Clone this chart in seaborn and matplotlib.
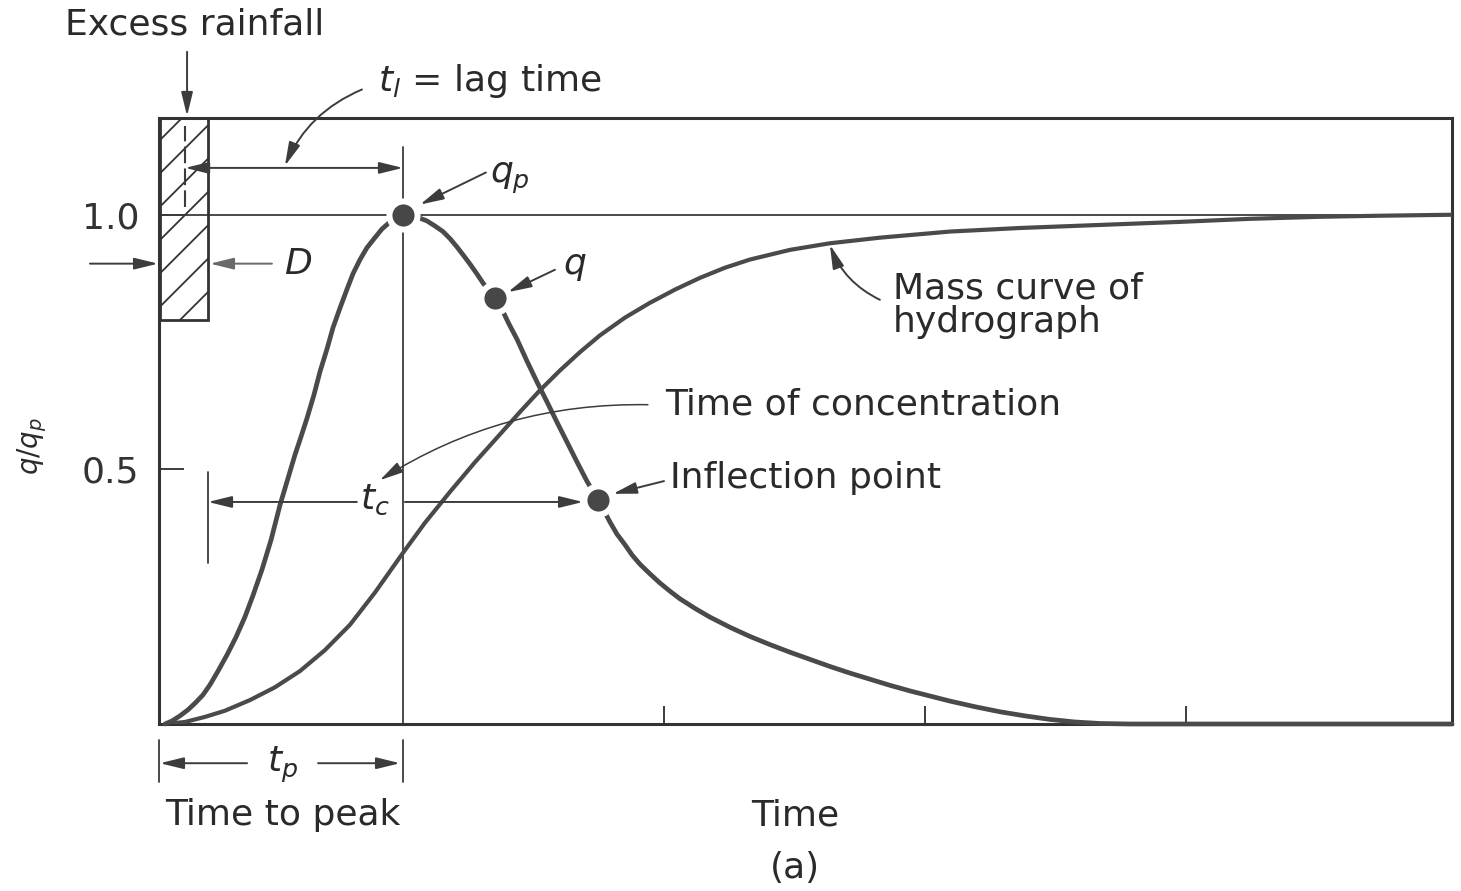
import matplotlib
matplotlib.use("Agg")
import matplotlib.pyplot as plt
import pandas as pd
import seaborn as sns

# ---------------- data (t / t_p , q / q_p) ----------------
rise_t = [0.025, 0.053, 0.086, 0.119, 0.148, 0.180, 0.209, 0.242, 0.279, 0.316,
          0.352, 0.385, 0.422, 0.459, 0.496, 0.529, 0.557, 0.582, 0.607, 0.635,
          0.660, 0.689, 0.713, 0.742, 0.770, 0.795, 0.824, 0.852, 0.885, 0.914,
          0.947, 0.975, 1.000]
rise_q = [0.000, 0.006, 0.016, 0.028, 0.041, 0.057, 0.077, 0.104, 0.136, 0.171,
          0.210, 0.252, 0.303, 0.361, 0.430, 0.483, 0.528, 0.564, 0.601, 0.646,
          0.692, 0.737, 0.778, 0.817, 0.853, 0.884, 0.912, 0.935, 0.955, 0.972,
          0.986, 0.996, 1.000]

fall_t = [1.033, 1.066, 1.098, 1.131, 1.164, 1.193, 1.221, 1.250, 1.275, 1.303,
          1.328, 1.352, 1.377, 1.406, 1.434, 1.467, 1.508, 1.549, 1.590, 1.631,
          1.672, 1.713, 1.754, 1.799, 1.824, 1.848, 1.877, 1.910, 1.939, 1.971,
          2.012, 2.053, 2.094, 2.135, 2.197, 2.258, 2.340, 2.422, 2.504, 2.586,
          2.668, 2.750, 2.832, 2.914, 2.996, 3.078, 3.160, 3.242, 3.344, 3.447,
          3.549, 3.652, 3.754, 3.857, 3.980, 5.300]
fall_q = [0.998, 0.994, 0.988, 0.978, 0.967, 0.953, 0.937, 0.919, 0.903, 0.884,
          0.866, 0.851, 0.837, 0.814, 0.786, 0.756, 0.713, 0.672, 0.633, 0.593,
          0.554, 0.515, 0.477, 0.440, 0.419, 0.397, 0.373, 0.352, 0.332, 0.314,
          0.295, 0.277, 0.261, 0.246, 0.227, 0.210, 0.190, 0.172, 0.156, 0.141,
          0.127, 0.113, 0.100, 0.088, 0.076, 0.065, 0.055, 0.045, 0.034, 0.024,
          0.016, 0.009, 0.004, 0.001, 0.000, 0.000]

mass_t = [0.025, 0.107, 0.189, 0.270, 0.373, 0.475, 0.578, 0.680, 0.783, 0.885,
          1.000, 1.090, 1.193, 1.295, 1.398, 1.480, 1.561, 1.643, 1.725, 1.807,
          1.910, 2.012, 2.115, 2.217, 2.320, 2.422, 2.586, 2.750, 2.955, 3.242,
          3.529, 3.857, 4.184, 4.471, 4.758, 4.992, 5.300]
mass_q = [0.000, 0.004, 0.014, 0.026, 0.047, 0.072, 0.104, 0.145, 0.195, 0.258,
          0.336, 0.395, 0.456, 0.514, 0.569, 0.613, 0.655, 0.694, 0.730, 0.763,
          0.798, 0.827, 0.853, 0.876, 0.896, 0.912, 0.931, 0.944, 0.955, 0.967,
          0.974, 0.980, 0.986, 0.992, 0.996, 0.998, 1.000]

point_names = ["q_p", "q", "inflection"]
point_t = [1.000, 1.377, 1.799]
point_q = [1.000, 0.837, 0.440]

rain_start, rain_end = 0.004, 0.201       # excess rainfall duration D
rain_bottom, rain_top = 0.794, 1.19
rain_centroid = 0.107
t_peak = 1.0
tc_start = 0.201

x_ticks = [2.07, 3.14, 4.21]
y_ticks = [0.5, 1.0]
y_tick_labels = ["0.5", "1.0"]

# ---------------- style ----------------
sns.set_theme(style="white")
plt.rcParams["font.family"] = ["DejaVu Sans"]
plt.rcParams["mathtext.fontset"] = "dejavusans"
plt.rcParams["hatch.linewidth"] = 1.3

INK = "#3c3c3c"
CURVE = "#4a4a4a"
FS = 26

fig = plt.figure(figsize=(14.61, 8.91), dpi=100)
W, H = 1461, 891
ax = fig.add_axes([159 / W, (H - 724) / H, (1452 - 159) / W, (724 - 118) / H])
ax.set_xlim(0, 5.30)
ax.set_ylim(0, 1.19)

for s in ax.spines.values():
    s.set_visible(True)
    s.set_color("#333333")
    s.set_linewidth(2.2)

ax.set_xticks(x_ticks)
ax.set_xticklabels([])
ax.set_yticks(y_ticks)
ax.set_yticklabels(y_tick_labels)
ax.tick_params(axis="x", direction="in", length=13, width=1.4, color=INK, bottom=True)
ax.tick_params(axis="y", direction="in", length=18, width=1.4, color=INK, left=True,
               pad=14, labelsize=FS, labelcolor="#333333")

# ---------------- curves ----------------
hydro = pd.DataFrame({"t": rise_t + fall_t, "q": rise_q + fall_q})
mass = pd.DataFrame({"t": mass_t, "q": mass_q})
sns.lineplot(data=hydro, x="t", y="q", sort=False, estimator=None, color=CURVE,
             linewidth=3.4, ax=ax, zorder=3)
ax.lines[-1].set_clip_on(False)
sns.lineplot(data=mass, x="t", y="q", sort=False, estimator=None, color=CURVE,
             linewidth=3.0, ax=ax, zorder=3)

# reference lines
ax.axhline(1.0, color=INK, linewidth=1.3, zorder=2)
ax.plot([t_peak, t_peak], [0, 1.134], color=INK, linewidth=1.3, zorder=2)

# excess rainfall block
ax.bar(x=rain_start, height=rain_top - rain_bottom, bottom=rain_bottom,
       width=rain_end - rain_start, align="edge", fill=False, hatch="/",
       edgecolor="#333333", linewidth=2.0, zorder=2)
ax.plot([rain_centroid, rain_centroid], [1.016, 1.175], color=INK, linewidth=1.5,
        linestyle=(0, (8, 2.5)), zorder=2)

# points
pts = pd.DataFrame({"t": point_t, "q": point_q, "name": point_names})
sns.scatterplot(data=pts, x="t", y="q", s=410, color="#474747", edgecolor="white",
                linewidth=4.3, ax=ax, zorder=6, legend=False)

ax.set_xlabel("")
ax.set_ylabel("")


def arrow(start, end, rad=0.0, lw=1.4, color=INK, style="-|>"):
    ax.annotate("", xy=end, xytext=start, annotation_clip=False,
                arrowprops=dict(arrowstyle=f"{style},head_length=0.9,head_width=0.22",
                                mutation_scale=16, lw=lw, color=color,
                                shrinkA=0, shrinkB=0,
                                connectionstyle=f"arc3,rad={rad}"))


def label(x, y, s, ha="center", va="center", **kw):
    ax.text(x, y, s, ha=ha, va=va, fontsize=FS, color="#2a2a2a", clip_on=False, **kw)


# Excess rainfall
label(0.148, 1.373, "Excess rainfall")
arrow((0.115, 1.320), (0.115, 1.194))

# lag time
label(0.898, 1.262, r"$t_l$ = lag time", ha="left")
arrow((0.832, 1.246), (0.516, 1.096), rad=0.2)
arrow((rain_centroid, 1.092), (t_peak, 1.092), style="<|-|>")

# q_p, q
label(1.357, 1.072, r"$q_p$", ha="left")
arrow((1.340, 1.083), (1.070, 1.020))
label(1.655, 0.900, r"$q$", ha="left")
arrow((1.623, 0.892), (1.430, 0.848))

# D
label(0.570, 0.904, r"$D$")
arrow((-0.283, 0.904), (-0.004, 0.904))
arrow((0.463, 0.904), (0.209, 0.904), color="#6a6a6a")

# mass curve
ax.text(3.008, 0.822, "Mass curve of\nhydrograph", ha="left", va="center",
        fontsize=FS, color="#2a2a2a", linespacing=1.0)
arrow((2.955, 0.833), (2.750, 0.941), rad=-0.2)

# time of concentration
label(2.074, 0.627, "Time of concentration", ha="left")
arrow((2.004, 0.627), (0.906, 0.479), rad=0.15, lw=1.1)

# inflection point
label(2.094, 0.483, "Inflection point", ha="left")
arrow((2.070, 0.477), (1.861, 0.452))

# t_c
ax.plot([tc_start, tc_start], [0.316, 0.495], color=INK, linewidth=1.3)
arrow((0.811, 0.436), (tc_start, 0.436))
arrow((1.008, 0.436), (1.738, 0.436))
label(0.885, 0.440, r"$t_c$")

# t_p bracket below axis
for xb in (0.0, t_peak):
    ax.plot([xb, xb], [-0.031, -0.114], color=INK, linewidth=1.3, clip_on=False)
arrow((0.361, -0.077), (0.004, -0.077))
arrow((0.652, -0.077), (0.988, -0.077))
label(0.508, -0.080, r"$t_p$")
label(0.508, -0.179, "Time to peak")
label(2.607, -0.179, "Time")
label(2.607, -0.283, "(a)")

# y label
ax.text(-0.52, 0.545, r"$q/q_p$", rotation=90, ha="center", va="center",
        fontsize=20, color="#2a2a2a", clip_on=False)

fig.savefig("out.png", dpi=100, facecolor="white")
